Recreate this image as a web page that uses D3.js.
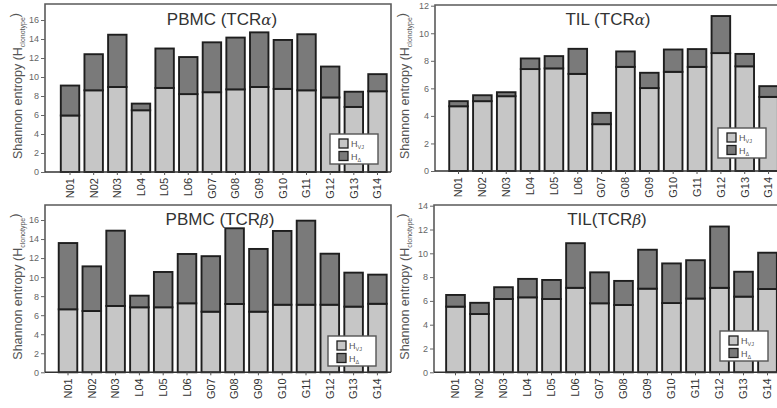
<!DOCTYPE html>
<html>
<head>
<meta charset="utf-8">
<script src="https://cdn.jsdelivr.net/npm/d3@7"></script>
<style>
  body { margin: 0; background: #fff; }
  svg { display: block; font-family: "Liberation Sans", Arial, sans-serif; }
</style>
</head>
<body>
<svg width="777" height="408"></svg>
<script>
document.addEventListener("DOMContentLoaded", function () {

  var samples = ["N01", "N02", "N03", "L04", "L05", "L06", "G07",
    "G08", "G09", "G10", "G11", "G12", "G13", "G14"];

  // H_VJ and total H_clonotype per sample
  var pbmcAlphaVJ = [5.95, 8.6, 8.95, 6.5, 8.85, 8.2, 8.4, 8.7, 8.95, 8.75, 8.6, 7.85, 6.85, 8.5];
  var pbmcAlphaTotal = [9.1, 12.4, 14.45, 7.2, 13.0, 12.1, 13.65, 14.15, 14.7, 13.9, 14.5, 11.1, 8.45, 10.3];

  var tilAlphaVJ = [4.7, 5.07, 5.43, 7.4, 7.45, 7.05, 3.4, 7.56, 6.02, 7.2, 7.56, 8.56, 7.6, 5.38];
  var tilAlphaTotal = [5.07, 5.5, 5.72, 8.17, 8.34, 8.87, 4.22, 8.68, 7.13, 8.82, 8.85, 11.25, 8.5, 6.16];

  var pbmcBetaVJ = [6.62, 6.44, 6.97, 6.83, 6.83, 7.25, 6.37, 7.18, 6.37, 7.1, 7.1, 7.1, 6.9, 7.2];
  var pbmcBetaTotal = [13.58, 11.13, 14.88, 8.05, 10.54, 12.43, 12.2, 15.13, 12.96, 14.85, 15.93, 12.46, 10.47, 10.26];

  var tilBetaVJ = [5.52, 4.9, 6.16, 6.3, 6.16, 7.1, 5.8, 5.66, 7.03, 5.82, 6.2, 7.1, 6.36, 7.0];
  var tilBetaTotal = [6.5, 5.84, 7.15, 7.85, 7.76, 10.85, 8.4, 7.68, 10.3, 9.15, 9.42, 12.25, 8.45, 10.05];

  var titles = ["PBMC (TCR", "TIL (TCR", "PBMC (TCR", "TIL(TCR"];
  var greek = ["\u03B1", "\u03B1", "\u03B2", "\u03B2"];

  var lightFill = "#c6c6c6";
  var darkFill = "#7a7a7a";

  var svg = d3.select("svg");

  var panels = [
    { vj: pbmcAlphaVJ, total: pbmcAlphaTotal, yMax: 16, yZero: 172, yTop: 20,
      frame: [45, 4, 391], band: [58.2, 389.3], label: 18, title: [222, 25],
      legend: [330, 134] },
    { vj: tilAlphaVJ, total: tilAlphaTotal, yMax: 12, yZero: 171, yTop: 5.7,
      frame: [435, 5, 800], band: [446.6, 780.5], label: 405, title: [608, 25],
      legend: [718, 128] },
    { vj: pbmcBetaVJ, total: pbmcBetaTotal, yMax: 16, yZero: 372.3, yTop: 220,
      frame: [45, 205, 391], band: [56.1, 389.3], label: 18, title: [220, 225],
      legend: [328, 336] },
    { vj: tilBetaVJ, total: tilBetaTotal, yMax: 14, yZero: 372.3, yTop: 205.7,
      frame: [434, 205, 800], band: [443.5, 779.5], label: 405, title: [607, 225],
      legend: [720, 331] }
  ];

  panels.forEach(function (p, i) {
    drawPanel(p, i);
  });

  function drawPanel(p, idx) {
    var g = svg.append("g");

    var rows = samples.map(function (s, i) {
      return { id: s, vj: p.vj[i], delta: p.total[i] - p.vj[i] };
    });

    var x = d3.scaleBand()
      .domain(samples)
      .range(p.band)
      .paddingInner(0.22)
      .paddingOuter(0.11);

    var y = d3.scaleLinear()
      .domain([0, p.yMax])
      .range([p.yZero, p.yTop]);

    var stack = d3.stack().keys(["vj", "delta"])(rows);

    // frame: left, top, right
    g.append("path")
      .attr("d", "M" + p.frame[0] + "," + p.yZero + "V" + p.frame[1] +
        "H" + p.frame[2] + "V" + p.yZero)
      .attr("fill", "none")
      .attr("stroke", "#5a5a5a")
      .attr("stroke-width", 1.6);

    g.append("text")
      .attr("x", p.title[0])
      .attr("y", p.title[1])
      .attr("text-anchor", "middle")
      .attr("font-size", 17)
      .attr("font-weight", "normal")
      .attr("fill", "#333")
      .text(titles[idx])
      .call(function (t) {
        t.append("tspan")
          .attr("font-family", "DejaVu Serif")
          .attr("font-style", "italic")
          .attr("font-size", 15)
          .text(greek[idx]);
        t.append("tspan").text(")");
      });

    var layer = g.selectAll("g.layer")
      .data(stack)
      .enter()
      .append("g")
      .attr("class", "layer")
      .attr("fill", function (d, i) {
        return i === 0 ? lightFill : darkFill;
      });

    layer.selectAll("rect")
      .data(function (d) { return d; })
      .enter()
      .append("rect")
      .attr("x", function (d) { return x(d.data.id); })
      .attr("width", x.bandwidth())
      .attr("y", function (d) { return y(d[1]); })
      .attr("height", function (d) { return y(d[0]) - y(d[1]); })
      .attr("stroke", "#1e1e1e")
      .attr("stroke-width", 1.9);

    // y axis
    var yAxis = d3.axisLeft(y)
      .tickValues(d3.range(0, p.yMax + 1, 2))
      .tickSize(4)
      .tickPadding(2);

    var ya = g.append("g")
      .attr("transform", "translate(" + p.frame[0] + ",0)")
      .call(yAxis);
    ya.select(".domain").remove();
    ya.selectAll("line").attr("stroke", "#666");
    ya.selectAll("text")
      .attr("font-size", 9)
      .attr("fill", "#666")
      .attr("font-family", "Liberation Sans, Arial, sans-serif");

    // x axis
    var xAxis = d3.axisBottom(x).tickSize(3).tickPadding(3);
    var xa = g.append("g")
      .attr("transform", "translate(0," + p.yZero + ")")
      .call(xAxis);
    xa.select(".domain")
      .attr("d", "M" + p.frame[0] + ",0H" + p.frame[2])
      .attr("stroke", "#333")
      .attr("stroke-width", 1.6);
    xa.selectAll("line").attr("stroke", "#555");
    xa.selectAll("text")
      .attr("font-size", 11)
      .attr("fill", "#333")
      .attr("font-family", "Liberation Sans, Arial, sans-serif")
      .attr("text-anchor", "end")
      .attr("dy", "0.35em")
      .attr("transform", "translate(0,3) rotate(-90)")
      .attr("x", -3)
      .attr("y", 0);

    // y label
    var midY = (p.yZero + p.frame[1]) / 2;
    var lab = g.append("text")
      .attr("transform", "translate(" + p.label + "," + (midY - 2) + ") rotate(-90)")
      .attr("text-anchor", "middle")
      .attr("font-size", 12.5)
      .attr("fill", "#555")
      .attr("dy", "0.35em");
    lab.append("tspan").text("Shannon entropy (H");
    lab.append("tspan").attr("font-size", 7).attr("dy", "0.35em").text("clonotype");
    lab.append("tspan").attr("dy", "-0.5em").text(")");

    // legend
    var lg = g.append("g")
      .attr("transform", "translate(" + p.legend[0] + "," + p.legend[1] + ")");
    lg.append("rect")
      .attr("width", 48)
      .attr("height", 30)
      .attr("fill", "#fff")
      .attr("stroke", "#555")
      .attr("stroke-width", 1.4);
    var items = [["VJ", lightFill], ["\u0394", darkFill]];
    items.forEach(function (it, i) {
      lg.append("rect")
        .attr("x", 9)
        .attr("y", 5 + i * 12.5)
        .attr("width", 9)
        .attr("height", 9)
        .attr("fill", it[1])
        .attr("stroke", "#1e1e1e")
        .attr("stroke-width", 1.3);
      var t = lg.append("text")
        .attr("x", 21)
        .attr("y", 13 + i * 12.5)
        .attr("font-size", 9)
        .attr("fill", "#555");
      t.append("tspan").text("H");
      t.append("tspan").attr("font-size", 5.5).attr("dy", 2).text(it[0]);
    });
  }

});
</script>
</body>
</html>
